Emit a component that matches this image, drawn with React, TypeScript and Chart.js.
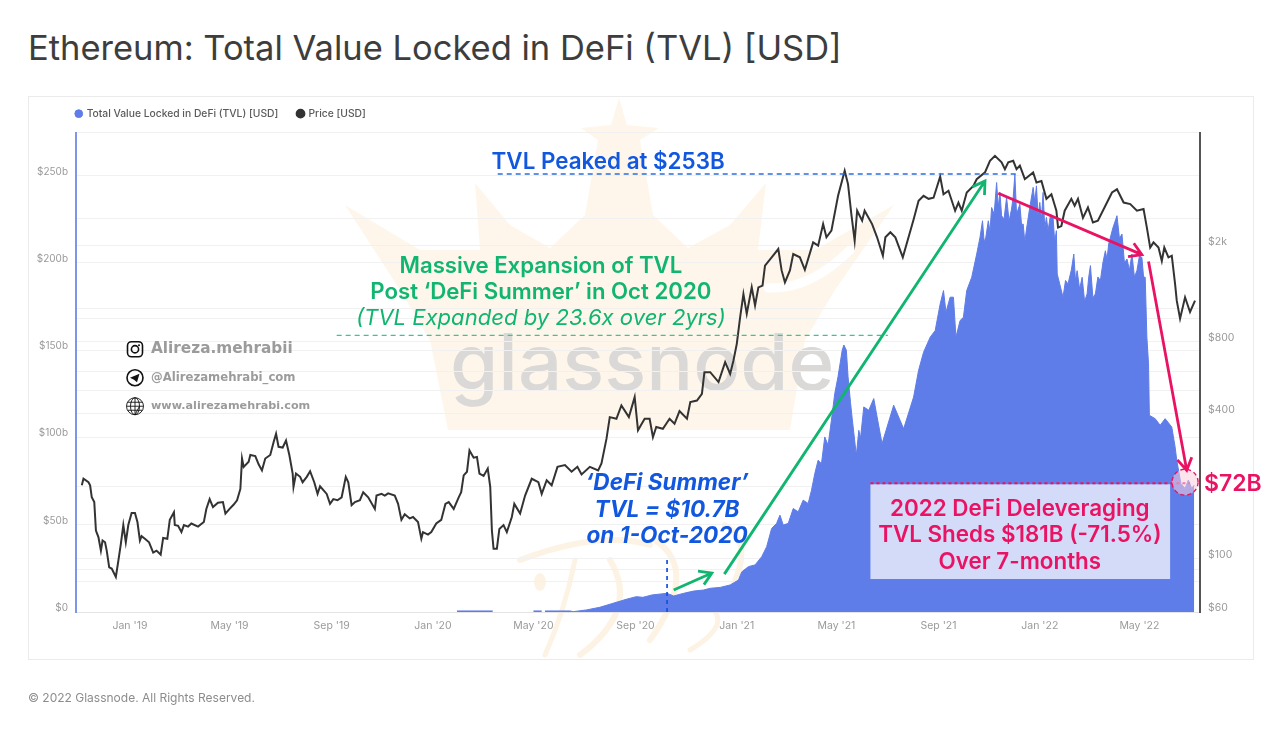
import React, { useEffect, useRef } from "react";
import { Chart, registerables } from "chart.js";

Chart.register(...registerables);

// x values are days since 1 Jan 2019
const monthLabels = ["Jan '19", "May '19", "Sep '19", "Jan '20", "May '20", "Sep '20", "Jan '21", "May '21", "Sep '21", "Jan '22", "May '22"];
const monthDays = [0, 120, 243, 365, 486, 609, 731, 851, 974, 1096, 1216];
const tvlAxisTicks = [0, 50, 100, 150, 200, 250];
const priceAxisLabels = [60, 100, 400, 800, 2000];
const priceGridTicks = [60, 80, 90, 100, 200, 400, 500, 600, 800, 1000, 1100, 2000, 2600, 5911];

const priceDays = [
  -58,-56,-50,-48,-46,-43,-41,-38,-35,-33,-30,-28,-25,-22,-17,-14,-11,-8,-5,-2,
  2,6,9,12,14,18,23,28,32,37,40,45,48,53,54,58,62,65,70,74,
  82,89,92,96,100,106,112,115,120,125,129,133,135,137,143,145,151,155,159,163,
  169,173,176,179,184,188,192,196,197,200,205,208,213,217,222,226,229,237,241,245,
  250,255,260,263,267,271,277,281,287,295,297,303,307,311,319,323,327,331,337,341,
  347,351,353,359,363,369,375,380,384,390,396,399,402,406,409,414,418,421,
  426,431,434,436,438,442,445,450,454,460,463,470,476,484,492,496,502,508,515,524,
  532,539,544,554,564,568,574,578,586,592,601,608,612,620,626,630,634,642,650,656,
  662,671,675,683,689,692,699,709,717,723,727,
  731,735,739,743,749,753,757,762,765,773,781,785,789,795,799,807,813,823,829,835,
  839,845,853,861,865,869,873,876,882,885,894,900,907,910,916,
  922,931,944,950,956,962,968,976,980,986,994,998,1002,1008,1016,1020,1030,1036,1042,1050,
  1054,1058,1064,1068,1072,1078,1088,1092,1098,1104,1110,1116,1118,1122,1126,1134,1138,1142,1148,1154,
  1160,1166,1175,1183,1189,1197,1205,1213,1221,1225,1229,1233,1239,1243,1246,1251,1255,1259,1261,1265,
  1271,1277,1283,
];
const priceUsd = [
  202,215,208,202,180,172,131,123,108,119,117,108,92,91,84,98,115,138,117,138,
  155,155,142,119,124,121,117,106,108,104,122,121,145,156,138,137,129,138,136,140,
  136,142,161,177,164,171,172,154,161,168,175,195,261,241,253,270,267,247,233,261,
  270,305,331,292,290,310,270,226,199,226,219,208,219,231,208,186,200,186,169,177,
  175,180,219,208,167,172,175,189,180,161,183,186,183,187,183,169,145,153,147,149,
  142,121,129,126,129,140,145,169,172,161,180,189,222,230,282,263,265,226,
  221,237,199,131,110,110,133,138,129,149,169,154,183,215,208,186,212,202,241,245,
  230,241,224,241,233,249,315,388,382,434,388,470,342,382,382,320,353,347,382,364,
  411,382,448,455,485,597,597,543,657,587,668,
  783,1010,1262,1044,1345,1130,1345,1367,1655,1793,1942,1582,1411,1582,1851,1793,1592,2070,2005,2466,
  2172,2316,3233,4105,3617,2713,2102,2802,2549,2802,2466,2172,1821,2172,2281,
  2172,1793,2577,3080,3233,3140,3175,3883,3281,3393,2802,3030,2802,3336,3550,3790,4046,4520,4740,4456,
  4172,4456,4520,4172,4320,3790,4046,3670,3725,3140,3281,2802,2384,2420,2802,3140,2940,3140,2617,2890,
  2502,2549,2940,3336,3440,3030,2985,2802,2850,2384,1969,2070,1969,1731,1969,1793,1821,1387,1184,996,
  1223,1062,1184,
];

const tvlDays = [
  394,437,438,486,496,497,500,530,
  534,550,566,582,598,610,618,629,639,647,655,667,679,691,699,711,723,733,737,745,753,761,
  767,773,779,783,787,793,799,805,811,817,821,825,829,833,837,841,845,849,853,855,
  858,860,863,865,868,870,875,878,880,884,890,896,900,906,920,932,944,950,956,964,
  970,976,980,983,988,992,995,1000,1004,1008,1014,
  1020,1024,1027,1029,1031,1034,1036,1038,1041,1044,1046,1048,1050,1053,1056,1059,1062,1064,1066,1068,
  1072,1074,1076,1078,1080,1084,1088,1090,1092,1094,1096,1098,1100,1102,1104,1106,1109,1112,1114,1116,
  1117,1120,1124,1127,1130,1134,1137,1139,1141,1144,1147,1150,1153,1155,1157,1160,1163,1166,1169,1172,
  1175,1177,1179,1184,1189,1192,1195,1198,1201,1204,1207,1210,1213,1216,1219,1221,1223,1225,
  1227,1228,1235,1241,1247,
  1255,1259,1261,1266,1271,1275,1279,1282,
];
const tvlUsdB: (number | null)[] = [
  0.6,0.6,null,0.6,0.6,null,0.6,0.6,
  0.2,1.2,2.7,5,7.3,8.8,8.4,9.8,10.3,10.7,9.2,10.7,12,12.6,13.6,14.1,15.5,18.3,23,26,27,31.7,
  37.4,47.9,50.8,55.5,49.8,50.8,59.3,57.4,64.1,62.2,69.8,79.4,87,85,100.3,95.6,109.9,125.1,135,141,
  150,153,150,135,120,111,89.8,104.1,99.4,117.5,115.6,122.3,111.8,96.5,118.5,105,123.2,138.5,148.9,157.5,
  161.3,176.5,184.2,171.8,180.4,180.4,157.5,167,168.9,184.2,191.8,
  205.1,214.7,224.2,212,214.7,224.2,218,231.8,228,246.1,232,240.4,227,225.2,237.6,224,230.9,238,250.9,228,
  233.7,222,222.3,212,219.4,232,243.3,235,244.2,226,234.7,225,240.4,220,226.1,218.5,228,226.1,212,218.5,
  193.7,188,180.4,190,188,196,205.1,190,195.6,185,191.8,178,182.3,192,198.5,180,182.3,192,189.9,200,
  207,202,210.9,220,227.1,214,216.6,200,202.3,196,205.1,192,195.6,204,203.2,192,191.8,157.5,
  142.2,112.7,110.8,107,110.8,
  106,94.6,87,73.6,70.8,75.6,70.8,72.7,
];

const COLORS = {
  tvl: "#5f7de8",
  price: "#333333",
  blueText: "#1257df",
  green: "#10b56f",
  red: "#ea1262",
  panelGrid: "#f1f1f1",
  tick: "#9a9a9a",
  crown: "#fef6ea",
  callig: "#fdf3e4",
};

const FONT = "Inter, 'Noto Sans', sans-serif";
const LEGEND_PADDING = 19.5;

// Annotations in data units (day, $b)
const dashedLines = [
  { from: [443, 251], to: [1070, 251], color: "#2a6de0", width: 1.5, dash: [5, 4] },
  { from: [249, 158.5], to: [913, 158.5], color: "#35c79a", width: 1.3, dash: [5, 4] },
  { from: [647, 0], to: [647, 32], color: "#1550e0", width: 1.7, dash: [4, 4] },
];
const arrows = [
  { from: [655, 12.6], to: [701, 22.3], color: COLORS.green },
  { from: [716, 21.7], to: [1030, 247], color: COLORS.green },
  { from: [1046, 240], to: [1219, 204.8], color: COLORS.red },
  { from: [1227, 200.8], to: [1273, 81.2], color: COLORS.red },
];
const textNotes = [
  { text: "TVL Peaked at $253B", day: 576, tvl: 258, font: `600 22.4px ${FONT}`, color: COLORS.blueText },
  { text: "Massive Expansion of TVL", day: 495, tvl: 198, font: `600 22.2px ${FONT}`, color: COLORS.green },
  { text: "Post \u2018DeFi Summer\u2019 in Oct 2020", day: 495, tvl: 183, font: `600 22.2px ${FONT}`, color: COLORS.green },
  { text: "(TVL Expanded by 23.6x over 2yrs)", day: 495, tvl: 168.2, font: `italic 400 22.1px ${FONT}`, color: COLORS.green },
  { text: "\u2018DeFi Summer\u2019", day: 647, tvl: 73.8, font: `italic 700 22.6px ${FONT}`, color: COLORS.blueText },
  { text: "TVL = $10.7B", day: 647, tvl: 58.4, font: `italic 700 22.6px ${FONT}`, color: COLORS.blueText },
  { text: "on 1-Oct-2020", day: 647, tvl: 43.5, font: `italic 700 22.6px ${FONT}`, color: COLORS.blueText },
  { text: "2022 DeFi Deleveraging", day: 1072, tvl: 58.9, font: `600 22.4px ${FONT}`, color: COLORS.red },
  { text: "TVL Sheds $181B (-71.5%)", day: 1072, tvl: 44, font: `600 22.4px ${FONT}`, color: COLORS.red },
  { text: "Over 7-months", day: 1072, tvl: 28.6, font: `600 22.4px ${FONT}`, color: COLORS.red },
];

const socialLines = [
  { text: "Alireza.mehrabii", font: "bold 15.3px 'DejaVu Sans'", icon: "insta" },
  { text: "@Alirezamehrabi_com", font: "bold 11.7px 'DejaVu Sans'", icon: "tg" },
  { text: "www.alirezamehrabi.com", font: "bold 11.2px 'DejaVu Sans'", icon: "web" },
];

const crownOutline = [
  [345,205],[420,250],[480,250],[475,183],[510,225],[550,248],[585,215],[598,140],[581,128],[611,125],[619,98],
  [627,125],[659,128],[640,140],[653,215],[688,248],[730,225],[766,183],[758,250],[815,250],[894,205],[835,290],
  [805,340],[790,430],[448,430],[430,340],[400,290],
];

const watermarkPlugin = {
  id: "watermark",
  beforeDraw(chart: any) {
    const c = chart.ctx;
    c.save();
    c.fillStyle = COLORS.crown;
    c.beginPath();
    crownOutline.forEach(([x, y], i) => (i ? c.lineTo(x, y) : c.moveTo(x, y)));
    c.closePath();
    c.fill();
    c.strokeStyle = "#ffffff";
    c.lineWidth = 9;
    c.lineCap = "round";
    c.beginPath();
    c.moveTo(768, 288);
    c.quadraticCurveTo(810, 290, 850, 250);
    c.stroke();
    // calligraphy mark near the bottom
    c.strokeStyle = COLORS.callig;
    c.lineCap = "round";
    const strokes = [
      [[520, 560], [600, 530], [650, 545], 6],
      [[575, 560], [565, 610], [545, 655], 5],
      [[610, 560], [640, 610], [580, 655], 6],
      [[655, 540], [700, 570], [650, 640], 6],
      [[725, 525], [760, 545], [720, 610], 6],
      [[700, 600], [740, 620], [690, 650], 5],
    ] as any[];
    strokes.forEach(([a, b, d, w]) => {
      c.lineWidth = w;
      c.beginPath();
      c.moveTo(a[0], a[1]);
      c.quadraticCurveTo(b[0], b[1], d[0], d[1]);
      c.stroke();
    });
    c.fillStyle = COLORS.callig;
    c.beginPath();
    c.ellipse(540, 582, 6, 9, 0, 0, Math.PI * 2);
    c.fill();
    c.font = `500 78px ${FONT}`;
    c.fillStyle = "#dad9d7";
    c.textAlign = "left";
    c.textBaseline = "alphabetic";
    c.fillText("glassnode", 450, 390);
    c.restore();
  },
};

function drawIcon(c: CanvasRenderingContext2D, kind: string, x: number, y: number) {
  c.save();
  c.strokeStyle = "#111";
  c.fillStyle = "#111";
  c.lineWidth = 1.6;
  if (kind === "insta") {
    c.beginPath();
    c.roundRect(x - 7.5, y - 7.5, 15, 15, 4);
    c.stroke();
    c.beginPath();
    c.arc(x, y, 3.6, 0, Math.PI * 2);
    c.stroke();
    c.beginPath();
    c.arc(x + 4, y - 4, 1, 0, Math.PI * 2);
    c.fill();
  } else if (kind === "tg") {
    c.beginPath();
    c.arc(x, y, 8, 0, Math.PI * 2);
    c.stroke();
    c.beginPath();
    c.moveTo(x - 5, y);
    c.lineTo(x + 4.5, y - 4);
    c.lineTo(x + 2, y + 4.5);
    c.lineTo(x - 1, y + 2);
    c.closePath();
    c.fill();
  } else {
    c.lineWidth = 0.9;
    c.beginPath();
    c.arc(x, y, 8.5, 0, Math.PI * 2);
    c.moveTo(x - 8.5, y);
    c.lineTo(x + 8.5, y);
    c.moveTo(x - 7.5, y - 4);
    c.lineTo(x + 7.5, y - 4);
    c.moveTo(x - 7.5, y + 4);
    c.lineTo(x + 7.5, y + 4);
    c.moveTo(x, y - 8.5);
    c.lineTo(x, y + 8.5);
    c.ellipse(x, y, 4.5, 8.5, 0, 0, Math.PI * 2);
    c.stroke();
  }
  c.restore();
}

const annotationPlugin = {
  id: "annotations",
  afterLayout(chart: any) {
    // legend's first marker sits at the plot's left edge, with a gap above the plot
    chart.legend.left = chart.chartArea.left - LEGEND_PADDING;
    chart.legend.top -= 4;
  },
  afterDatasetsDraw(chart: any) {
    const c = chart.ctx;
    const X = (d: number) => chart.scales.x.getPixelForValue(d);
    const Y = (v: number) => chart.scales.y.getPixelForValue(v);
    c.save();

    // deleveraging box and its dotted top edge
    c.fillStyle = "#d4dbf8";
    c.fillRect(X(892), Y(73.2), X(1253) - X(892), Y(18.9) - Y(73.2));
    c.strokeStyle = COLORS.red;
    c.lineWidth = 2;
    c.setLineDash([3, 3]);
    c.beginPath();
    c.moveTo(X(892), Y(73.8));
    c.lineTo(X(1277), Y(73.8));
    c.stroke();

    // marker circle on the last value
    c.beginPath();
    c.arc(X(1271), Y(74.4), 13, 0, Math.PI * 2);
    c.fillStyle = "rgba(250,205,222,0.55)";
    c.fill();
    c.lineWidth = 1.4;
    c.setLineDash([4, 3]);
    c.stroke();

    dashedLines.forEach((l) => {
      c.strokeStyle = l.color;
      c.lineWidth = l.width;
      c.setLineDash(l.dash);
      c.beginPath();
      c.moveTo(X(l.from[0]), Y(l.from[1]));
      c.lineTo(X(l.to[0]), Y(l.to[1]));
      c.stroke();
    });
    c.setLineDash([]);

    arrows.forEach((a) => {
      const x1 = X(a.from[0]), y1 = Y(a.from[1]), x2 = X(a.to[0]), y2 = Y(a.to[1]);
      const ang = Math.atan2(y2 - y1, x2 - x1);
      c.strokeStyle = a.color;
      c.lineWidth = 2.8;
      c.beginPath();
      c.moveTo(x1, y1);
      c.lineTo(x2, y2);
      c.moveTo(x2 - 14 * Math.cos(ang - 0.55), y2 - 14 * Math.sin(ang - 0.55));
      c.lineTo(x2, y2);
      c.lineTo(x2 - 14 * Math.cos(ang + 0.55), y2 - 14 * Math.sin(ang + 0.55));
      c.stroke();
    });

    c.textAlign = "center";
    c.textBaseline = "middle";
    textNotes.forEach((t) => {
      c.font = t.font;
      c.fillStyle = t.color;
      c.fillText(t.text, X(t.day), Y(t.tvl));
    });

    c.textAlign = "left";
    c.font = `600 23px ${FONT}`;
    c.fillStyle = COLORS.red;
    c.fillText("$72B", chart.chartArea.right + 4, Y(73.2));

    socialLines.forEach((s, i) => {
      const y = Y(150) - 1 + i * 28.5;
      drawIcon(c, s.icon, chart.chartArea.left + 59, y);
      c.font = s.font;
      c.fillStyle = "#9b9b9b";
      c.fillText(s.text, chart.chartArea.left + 75, y);
    });
    c.restore();
  },
};

export default function App() {
  const ref = useRef<HTMLCanvasElement>(null);
  useEffect(() => {
    if (!ref.current) return;
    const chart = new Chart(ref.current, {
      type: "line",
      data: {
        datasets: [
          {
            label: "Total Value Locked in DeFi (TVL) [USD]",
            data: tvlDays.map((d, i) => ({ x: d, y: tvlUsdB[i] })) as any,
            yAxisID: "y",
            borderColor: COLORS.tvl,
            backgroundColor: COLORS.tvl,
            borderWidth: 1,
            pointRadius: 0,
            fill: "origin",
            spanGaps: false,
            order: 2,
          },
          {
            label: "Price [USD]",
            data: priceDays.map((d, i) => ({ x: d, y: priceUsd[i] })),
            yAxisID: "y1",
            borderColor: COLORS.price,
            backgroundColor: COLORS.price,
            borderWidth: 2,
            pointRadius: 0,
            fill: false,
            order: 1,
          },
        ],
      },
      options: {
        animation: false,
        responsive: false,
        layout: { padding: { top: 93, bottom: 78 } },
        plugins: {
          title: { display: false },
          tooltip: { enabled: false },
          legend: {
            position: "top",
            align: "start",
            fullSize: false,
            labels: {
              usePointStyle: true,
              pointStyle: "circle",
              boxWidth: 5.5,
              boxHeight: 5.5,
              padding: LEGEND_PADDING,
              color: "#5a5a5a",
              font: { family: FONT, size: 10.3, weight: "500" },
              sort: (a: any, b: any) => a.datasetIndex - b.datasetIndex,
            },
          },
        },
        scales: {
          x: {
            type: "linear",
            min: -65,
            max: 1289,
            afterBuildTicks: (s: any) => {
              s.ticks = monthDays.map((value) => ({ value }));
            },
            afterFit: (s: any) => {
              s.height = 47;
            },
            grid: { display: false, drawTicks: false },
            border: { color: "#e4e4e4", width: 1 },
            ticks: {
              autoSkip: false,
              maxRotation: 0,
              padding: 8,
              color: COLORS.tick,
              font: { family: FONT, size: 10.5 },
              callback: (v: any) => monthLabels[monthDays.indexOf(Number(v))] ?? "",
            },
          },
          y: {
            type: "linear",
            position: "left",
            min: 0,
            max: 274.6,
            afterBuildTicks: (s: any) => {
              s.ticks = tvlAxisTicks.map((value) => ({ value }));
            },
            afterFit: (s: any) => {
              s.width = 76;
            },
            grid: { color: COLORS.panelGrid, drawTicks: false },
            border: { color: "#7f95ea", width: 2 },
            ticks: {
              padding: 8,
              labelOffset: -4,
              color: COLORS.tick,
              font: { family: FONT, size: 10 },
              callback: (v: any) => (Number(v) === 0 ? "$0" : `$${v}b`),
            },
          },
          y1: {
            type: "logarithmic",
            position: "right",
            min: 60,
            max: 5911,
            afterBuildTicks: (s: any) => {
              s.ticks = priceGridTicks.map((value) => ({ value }));
            },
            afterFit: (s: any) => {
              s.width = 80;
            },
            grid: { color: COLORS.panelGrid, drawTicks: false },
            border: { color: "#555555", width: 2 },
            ticks: {
              autoSkip: false,
              padding: 8,
              labelOffset: -4,
              color: COLORS.tick,
              font: { family: FONT, size: 10.5 },
              callback: (v: any) => {
                const n = Number(v);
                if (!priceAxisLabels.includes(n)) return "";
                return n >= 1000 ? `$${n / 1000}k` : `$${n}`;
              },
            },
          },
        },
      } as any,
      plugins: [watermarkPlugin, annotationPlugin],
    });
    return () => chart.destroy();
  }, []);

  return (
    <div style={{ position: "absolute", left: 0, top: 0, width: 1280, height: 737, background: "#fff", overflow: "hidden" }}>
      <div
        style={{
          position: "absolute",
          left: 28,
          top: 28,
          fontFamily: FONT,
          fontSize: 34.5,
          lineHeight: "40px",
          fontWeight: 400,
          color: "#3d3d3d",
          whiteSpace: "nowrap",
        }}
      >
        Ethereum: Total Value Locked in DeFi (TVL) [USD]
      </div>
      <div style={{ position: "absolute", left: 28, top: 96, width: 1224, height: 562, border: "1px solid #ebebeb" }} />
      <canvas ref={ref} width={1280} height={737} style={{ position: "absolute", left: 0, top: 0, width: 1280, height: 737 }} />
      <div
        style={{
          position: "absolute",
          left: 28,
          top: 690,
          fontFamily: FONT,
          fontSize: 12,
          lineHeight: "16px",
          color: "#8c8c8c",
          whiteSpace: "nowrap",
        }}
      >
        © 2022 Glassnode. All Rights Reserved.
      </div>
    </div>
  );
}
